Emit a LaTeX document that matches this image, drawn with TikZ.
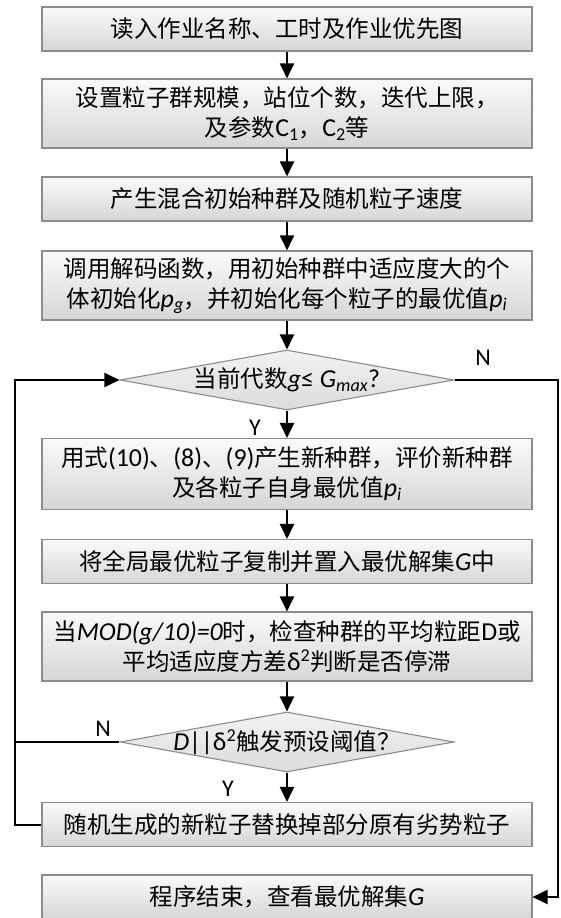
\documentclass[tikz,border=0pt]{standalone}
\usepackage{fontspec}
\setmainfont{Carlito}
\newfontfamily\cjk{Noto Sans CJK SC}
\newfontfamily\latf[Scale=1.1]{Carlito}
\newfontfamily\labf{Carlito}
\newcommand\latx[1]{{\latf #1}}
\newcommand\latit[1]{{\latf\itshape #1}}
\newcommand\nowide[1]{\makebox[0pt][c]{#1}}
\usetikzlibrary{arrows.meta,shapes.geometric}
\definecolor{edgegray}{HTML}{8C8C8C}
\definecolor{boxtop}{HTML}{FAFAFA}
\definecolor{boxbot}{HTML}{D6D6D6}
\definecolor{diatop}{HTML}{F2F2F2}
\definecolor{diabot}{HTML}{DCDCDC}
\tikzset{
  stepbox/.style={draw=edgegray, line width=1.1pt, top color=boxtop, bottom color=boxbot,
    minimum width=490pt, inner sep=0pt, align=center,
    font=\cjk\fontsize{23.5pt}{30pt}\selectfont},
  onebox/.style={stepbox, minimum height=44pt},
  twobox/.style={stepbox, minimum height=69pt},
  decide/.style={diamond, draw=edgegray, line width=1.1pt, top color=diatop, bottom color=diabot,
    aspect=5.55, minimum width=334pt, minimum height=60pt, inner sep=0pt,
    font=\cjk\fontsize{23.5pt}{30pt}\selectfont},
  flow/.style={draw=black, line width=2pt, -{Triangle[length=15pt,width=14pt]}},
  plainflow/.style={draw=black, line width=2pt},
  yn/.style={font=\labf\fontsize{24pt}{26pt}\selectfont, inner sep=0pt}
}
\begin{document}
\begin{tikzpicture}[x=1pt,y=-1pt]
\useasboundingbox (0,0) rectangle (560,918);
\fill[white] (0,0) rectangle (560,918);

\node[onebox] (b1) at (287,29) {读入作业名称、工时及作业优先图};
\node[twobox] (b2) at (287,113.5) {设置粒子群规模，站位个数，迭代上限，\\及参数\latx{C\textsubscript{1}}，\latx{C\textsubscript{2}}等};
\node[onebox] (b3) at (287,199) {产生混合初始种群及随机粒子速度};
\node[twobox] (b4) at (287,285.5) {调用解码函数，用初始种群中适应度大的个\\体初始化\latit{p\textsubscript{g}}，并初始化每个粒子的最优值\latit{p\textsubscript{i}}};
\node[decide] (d1) at (287,380) {\nowide{当前代数\latit{g}\latx{≤ }\latit{G\textsubscript{max}}\latx{?}}};
\node[stepbox, minimum height=71pt] (b5) at (287,474) {用式\latx{(10)}、\latx{(8)}、\latx{(9)}产生新种群，评价新种群\\及各粒子自身最优值\latit{p\textsubscript{i}}};
\node[onebox] (b6) at (287,561.5) {将全局最优粒子复制并置入最优解集\latit{G}中};
\node[twobox] (b7) at (287,646.5) {当\latit{MOD(g/10)=0}时，检查种群的平均粒距\latx{D}或\\平均适应度方差\latx{δ\textsuperscript{2}}判断是否停滞};
\node[decide] (d2) at (287,742) {\nowide{\latit{D}\latx{||δ\textsuperscript{2}}触发预设阈值？}};
\node[onebox] (b8) at (287,824.5) {随机生成的新粒子替换掉部分原有劣势粒子};
\node[onebox] (b9) at (287,897) {程序结束，查看最优解集\latit{G}};

\coordinate (L) at (15,0);
\coordinate (R) at (558,0);

\draw[flow] (b1.south) -- (b2.north);
\draw[flow] (b2.south) -- (b3.north);
\draw[flow] (b3.south) -- (b4.north);
\draw[flow] (b4.south) -- (d1.north);
\draw[flow] (d1.south) -- (b5.north);
\draw[flow] (b5.south) -- (b6.north);
\draw[flow] (b6.south) -- (b7.north);
\draw[flow] (b7.south) -- (d2.north);
\draw[flow] (d2.south) -- (b8.north);
\draw[flow] (b8.west) -- (b8.west -| L) |- (d1.west);
\draw[plainflow] (d2.west) -- (d2.west -| L);
\draw[flow] (d1.east) -- (d1.east -| R) |- (b9.east);

\node[yn] (n1) at (483,358) {N};
\node[yn] (y1) at (255,428) {Y};
\node[yn] (n2) at (103,729) {N};
\node[yn] (y2) at (228,789) {Y};
\end{tikzpicture}
\end{document}
